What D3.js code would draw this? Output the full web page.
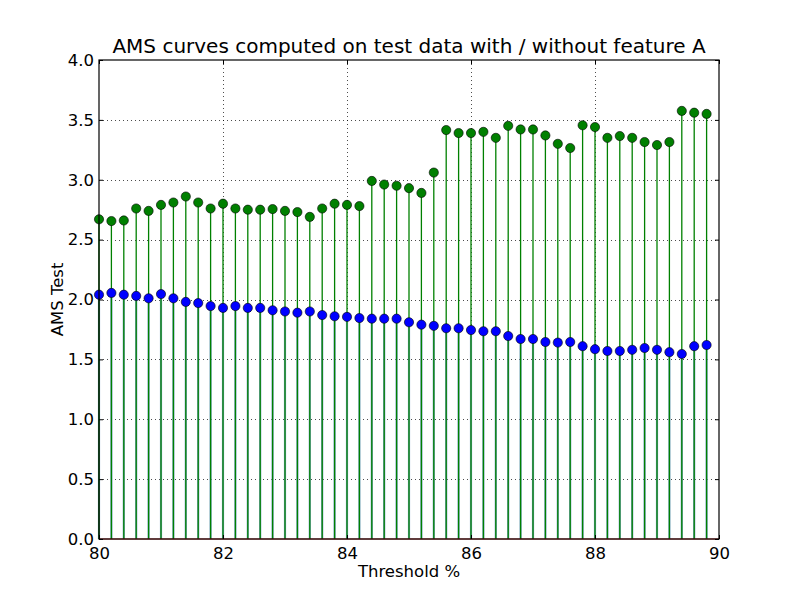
<!DOCTYPE html>
<html>
<head>
<meta charset="utf-8">
<script src="https://cdn.jsdelivr.net/npm/d3@7"></script>
<style>
  body { margin: 0; background: #fff; }
  svg { font-family: 'DejaVu Sans', sans-serif; }
</style>
</head>
<body>
<svg id="chart" width="800" height="600"></svg>
<script>
// thresholds 80.0 .. 89.8 step 0.2
const thresholds = [
  80.0, 80.2, 80.4, 80.6, 80.8, 81.0, 81.2, 81.4, 81.6, 81.8,
  82.0, 82.2, 82.4, 82.6, 82.8, 83.0, 83.2, 83.4, 83.6, 83.8,
  84.0, 84.2, 84.4, 84.6, 84.8, 85.0, 85.2, 85.4, 85.6, 85.8,
  86.0, 86.2, 86.4, 86.6, 86.8, 87.0, 87.2, 87.4, 87.6, 87.8,
  88.0, 88.2, 88.4, 88.6, 88.8, 89.0, 89.2, 89.4, 89.6, 89.8
];

// AMS without feature A (blue)
const amsWithout = [
  2.04, 2.055, 2.04, 2.03, 2.01, 2.045, 2.01, 1.98, 1.97, 1.945,
  1.93, 1.945, 1.93, 1.93, 1.91, 1.90, 1.89, 1.90, 1.87, 1.86,
  1.855, 1.845, 1.84, 1.84, 1.84, 1.81, 1.79, 1.78, 1.76, 1.76,
  1.745, 1.735, 1.735, 1.695, 1.67, 1.67, 1.645, 1.64, 1.645, 1.61,
  1.585, 1.57, 1.57, 1.58, 1.595, 1.58, 1.56, 1.545, 1.61, 1.62
];

// AMS with feature A (green)
const amsWith = [
  2.67, 2.655, 2.66, 2.76, 2.74, 2.79, 2.81, 2.86, 2.81, 2.76,
  2.80, 2.76, 2.75, 2.75, 2.755, 2.74, 2.73, 2.69, 2.76, 2.80,
  2.79, 2.78, 2.99, 2.96, 2.95, 2.93, 2.89, 3.06, 3.415, 3.39,
  3.39, 3.40, 3.35, 3.45, 3.42, 3.42, 3.37, 3.30, 3.265, 3.455,
  3.44, 3.35, 3.365, 3.35, 3.315, 3.29, 3.315, 3.575, 3.56, 3.55
];

const xTicks = [80, 82, 84, 86, 88, 90];
const yTicks = [0, 0.5, 1.0, 1.5, 2.0, 2.5, 3.0, 3.5, 4.0];

const svg = d3.select('#chart');
const margin = { top: 60, right: 81, bottom: 61, left: 99 };
const width = +svg.attr('width') - margin.left - margin.right;
const height = +svg.attr('height') - margin.top - margin.bottom;

const g = svg
  .append('g')
  .attr('transform', `translate(${margin.left},${margin.top})`);

const x = d3.scaleLinear().domain([80, 90]).range([0, width]);
const y = d3.scaleLinear().domain([0, 4]).range([height, 0]);

// grid
g.append('g')
  .selectAll('line')
  .data(xTicks.slice(1, -1))
  .join('line')
  .attr('x1', d => x(d) + 0.5)
  .attr('x2', d => x(d) + 0.5)
  .attr('y1', 0)
  .attr('y2', height)
  .attr('stroke', '#000')
  .attr('stroke-width', 0.7)
  .attr('stroke-dasharray', '1,3');

g.append('g')
  .selectAll('line')
  .data(yTicks.slice(1, -1))
  .join('line')
  .attr('x1', 0)
  .attr('x2', width)
  .attr('y1', d => Math.round(y(d)) + 0.5)
  .attr('y2', d => Math.round(y(d)) + 0.5)
  .attr('stroke', '#000')
  .attr('stroke-width', 0.7)
  .attr('stroke-dasharray', '1,3');

const blueData = thresholds.map((t, i) => ({ t, v: amsWithout[i] }));
const greenData = thresholds.map((t, i) => ({ t, v: amsWith[i] }));

// stems
g.append('g')
  .selectAll('line')
  .data(blueData)
  .join('line')
  .attr('x1', d => x(d.t))
  .attr('x2', d => x(d.t))
  .attr('y1', y(0))
  .attr('y2', d => y(d.v))
  .attr('stroke', '#7fa6c6')
  .attr('stroke-width', 2.2);

g.append('g')
  .selectAll('line')
  .data(greenData)
  .join('line')
  .attr('x1', d => x(d.t))
  .attr('x2', d => x(d.t))
  .attr('y1', y(0))
  .attr('y2', d => y(d.v))
  .attr('stroke', '#008000')
  .attr('stroke-width', 1.3);

// baseline
g.append('line')
  .attr('x1', x(80))
  .attr('x2', x(90))
  .attr('y1', y(0))
  .attr('y2', y(0))
  .attr('stroke', '#e03030')
  .attr('stroke-width', 1.2);

// markers
g.append('g')
  .selectAll('circle')
  .data(blueData)
  .join('circle')
  .attr('cx', d => x(d.t))
  .attr('cy', d => y(d.v))
  .attr('r', 4.6)
  .attr('fill', '#0000ff')
  .attr('stroke', '#000')
  .attr('stroke-width', 0.6);

g.append('g')
  .selectAll('circle')
  .data(greenData)
  .join('circle')
  .attr('cx', d => x(d.t))
  .attr('cy', d => y(d.v))
  .attr('r', 4.6)
  .attr('fill', '#008000')
  .attr('stroke', '#000')
  .attr('stroke-width', 0.6);

// axes, matplotlib-style inward ticks on all sides
const styleAxis = sel => {
  sel.select('.domain').remove();
  sel.selectAll('.tick line').attr('stroke', '#000').attr('stroke-width', 1);
  sel.selectAll('.tick text')
    .attr('fill', '#000')
    .style('font-size', '16.5px')
    .style('font-family', "'DejaVu Sans', sans-serif");
};

g.append('g')
  .attr('transform', `translate(0, ${height})`)
  .call(d3.axisBottom(x).tickValues(xTicks).tickFormat(d3.format('d'))
    .tickSizeInner(-4).tickSizeOuter(0).tickPadding(8))
  .call(styleAxis);

g.append('g')
  .call(d3.axisTop(x).tickValues(xTicks).tickFormat('')
    .tickSizeInner(-4).tickSizeOuter(0))
  .call(styleAxis);

g.append('g')
  .call(d3.axisLeft(y).tickValues(yTicks).tickFormat(d3.format('.1f'))
    .tickSizeInner(-4).tickSizeOuter(0).tickPadding(5))
  .call(styleAxis);

g.append('g')
  .attr('transform', `translate(${width}, 0)`)
  .call(d3.axisRight(y).tickValues(yTicks).tickFormat('')
    .tickSizeInner(-4).tickSizeOuter(0))
  .call(styleAxis);

// frame
g.append('rect')
  .attr('x', 0)
  .attr('y', 0)
  .attr('width', width)
  .attr('height', height)
  .attr('fill', 'none')
  .attr('stroke', '#000')
  .attr('stroke-width', 1.2);

// labels
svg.append('text')
  .attr('x', margin.left + width / 2)
  .attr('y', 53)
  .attr('text-anchor', 'middle')
  .style('font-size', '20px')
  .text('AMS curves computed on test data with / without feature A');

svg.append('text')
  .attr('x', margin.left + width / 2)
  .attr('y', 577)
  .attr('text-anchor', 'middle')
  .style('font-size', '16.5px')
  .text('Threshold %');

svg.append('text')
  .attr('transform', `translate(63, ${margin.top + height / 2}) rotate(-90)`)
  .attr('text-anchor', 'middle')
  .style('font-size', '16.5px')
  .text('AMS Test');
</script>
</body>
</html>
